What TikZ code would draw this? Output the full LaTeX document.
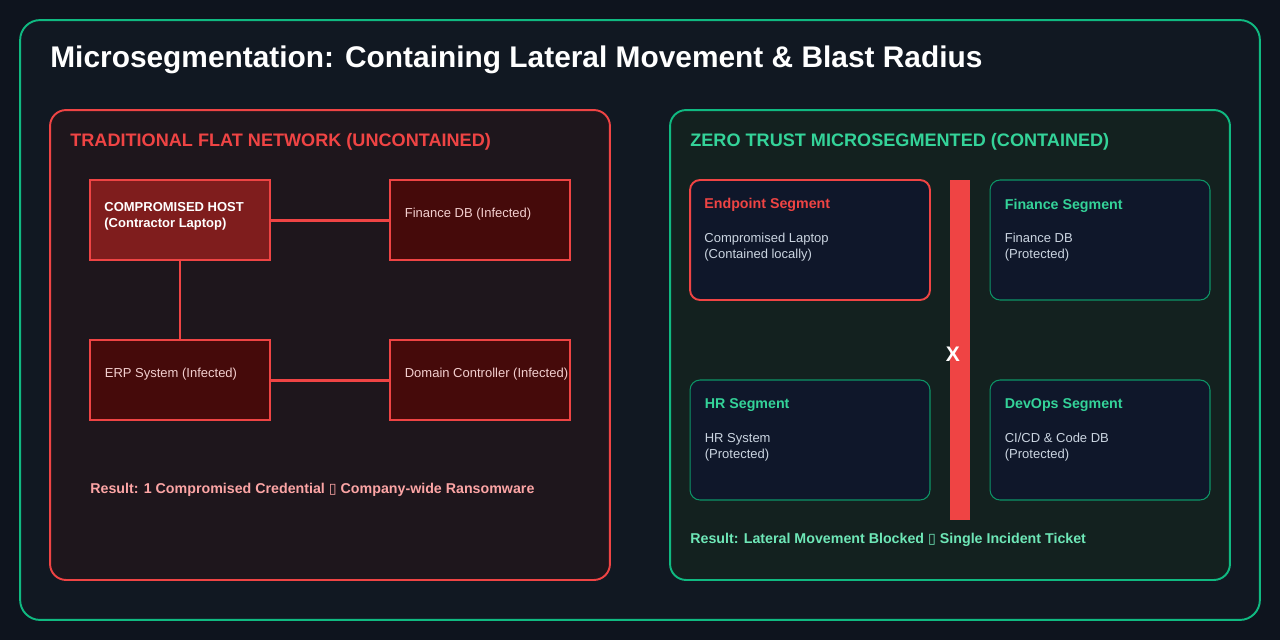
\documentclass[tikz,border=0pt]{standalone}
\usepackage{fontspec}
\setmainfont{Liberation Sans}
\newfontfamily\symfont{DejaVu Sans}
\usetikzlibrary{positioning}

\definecolor{bgdark}{HTML}{0E141E}
\definecolor{outerfill}{HTML}{111822}
\definecolor{redfill}{HTML}{1E161C}
\definecolor{greenfill}{HTML}{13211F}
\definecolor{segfill}{HTML}{0F172A}
\definecolor{alertred}{HTML}{EF4444}
\definecolor{hostred}{HTML}{7F1D1D}
\definecolor{infectred}{HTML}{450A0A}
\definecolor{safegreen}{HTML}{10B981}
\definecolor{labelgreen}{HTML}{34D399}
\definecolor{resgreen}{HTML}{6EE7B7}
\definecolor{respink}{HTML}{FCA5A5}
\definecolor{infecttext}{HTML}{F3CFCF}
\definecolor{segtext}{HTML}{CBD5E1}

\newcommand{\smallfont}{\fontsize{7.4}{9.1}\selectfont}
\newcommand{\boldfont}{\fontsize{8.1}{9.1}\selectfont\bfseries}
\newcommand{\labelfont}{\fontsize{10.3}{12}\selectfont\bfseries}

\begin{document}
\begin{tikzpicture}[x=0.02cm, y=-0.02cm,
    panel/.style={rounded corners=0.32cm, line width=1.1pt, minimum width=11.2cm, minimum height=9.4cm},
    hostbox/.style={draw=alertred, fill=hostred, line width=1.1pt, minimum width=3.6cm, minimum height=1.6cm},
    infbox/.style={draw=alertred, fill=infectred, line width=0.6pt, minimum width=3.6cm, minimum height=1.6cm},
    segbox/.style={fill=segfill, rounded corners=0.2cm, minimum height=2.4cm},
    link/.style={alertred, line width=1.7pt},
    txt/.style={anchor=west, inner sep=0pt, align=left}]
    % Nền
    \useasboundingbox (0,0) rectangle (1280,640);
    \fill[bgdark] (0,0) rectangle (1280,640);
    \node[draw=safegreen, fill=outerfill, rounded corners=0.4cm, line width=1.1pt,
          minimum width=24.8cm, minimum height=12cm] (outer) at (640,320) {};
    \node[txt, text=white, font=\fontsize{17}{19}\selectfont\bfseries] (title) at (50,60)
        {Microsegmentation: Containing Lateral Movement \& Blast Radius};
    % Mạng phẳng
    \node[panel, draw=alertred, fill=redfill] (flat) at (330,345) {};
    \node[txt, text=alertred, font=\labelfont] (flatlabel) at (70,142) {TRADITIONAL FLAT NETWORK (UNCONTAINED)};
    \node[hostbox] (host) at (180,220) {};
    \node[infbox] (findb) at (480,220) {};
    \node[infbox] (erp) at (180,380) {};
    \node[infbox] (dc) at (480,380) {};
    \draw[link] (host) -- (findb);
    \draw[link] (host) -- (erp);
    \draw[link] (erp) -- (dc);
    \node[txt, text=white, font=\smallfont\bfseries] at ([xshift=0.3cm, yshift=0.08cm]host.west)
        {COMPROMISED HOST\\(Contractor Laptop)};
    \node[txt, text=infecttext, font=\smallfont] at ([xshift=0.3cm, yshift=0.12cm]findb.west) {Finance DB (Infected)};
    \node[txt, text=infecttext, font=\smallfont] at ([xshift=0.3cm, yshift=0.12cm]erp.west) {ERP System (Infected)};
    \node[txt, text=infecttext, font=\smallfont] at ([xshift=0.3cm, yshift=0.12cm]dc.west) {Domain Controller (Infected)};
    \node[txt, text=respink, font=\boldfont] (flatres) at (90,490)
        {Result: 1 Compromised Credential {\symfont ▯} Company-wide Ransomware};
    % Vi phân đoạn
    \node[panel, draw=safegreen, fill=greenfill] (zt) at (950,345) {};
    \node[txt, text=labelgreen, font=\labelfont] (ztlabel) at (690,142) {ZERO TRUST MICROSEGMENTED (CONTAINED)};
    \node[segbox, draw=alertred, line width=1.1pt, minimum width=4.8cm] (endseg) at (810,240) {};
    \node[segbox, draw=safegreen!80!black, line width=0.6pt, minimum width=4.4cm] (finseg) at (1100,240) {};
    \node[segbox, draw=safegreen!80!black, line width=0.6pt, minimum width=4.8cm] (hrseg) at (810,440) {};
    \node[segbox, draw=safegreen!80!black, line width=0.6pt, minimum width=4.4cm] (devseg) at (1100,440) {};
    \node[txt, text=alertred, font=\boldfont] at ([xshift=0.3cm, yshift=-0.52cm]endseg.north west) {Endpoint Segment};
    \node[txt, text=segtext, font=\smallfont] at ([xshift=0.3cm, yshift=-1.36cm]endseg.north west) {Compromised Laptop\\(Contained locally)};
    \node[txt, text=labelgreen, font=\boldfont] at ([xshift=0.3cm, yshift=-0.52cm]finseg.north west) {Finance Segment};
    \node[txt, text=segtext, font=\smallfont] at ([xshift=0.3cm, yshift=-1.36cm]finseg.north west) {Finance DB\\(Protected)};
    \node[txt, text=labelgreen, font=\boldfont] at ([xshift=0.3cm, yshift=-0.52cm]hrseg.north west) {HR Segment};
    \node[txt, text=segtext, font=\smallfont] at ([xshift=0.3cm, yshift=-1.36cm]hrseg.north west) {HR System\\(Protected)};
    \node[txt, text=labelgreen, font=\boldfont] at ([xshift=0.3cm, yshift=-0.52cm]devseg.north west) {DevOps Segment};
    \node[txt, text=segtext, font=\smallfont] at ([xshift=0.3cm, yshift=-1.36cm]devseg.north west) {CI/CD \& Code DB\\(Protected)};
    % Rào chắn
    \node[fill=alertred, minimum width=0.4cm, minimum height=6.8cm, inner sep=0pt] (wall) at (960,350) {};
    \node[text=white, font=\fontsize{12}{13}\selectfont\bfseries, inner sep=0pt] (block) at (953,354) {X};
    \node[txt, text=resgreen, font=\boldfont] (ztres) at (690,540)
        {Result: Lateral Movement Blocked {\symfont ▯} Single Incident Ticket};
\end{tikzpicture}
\end{document}
